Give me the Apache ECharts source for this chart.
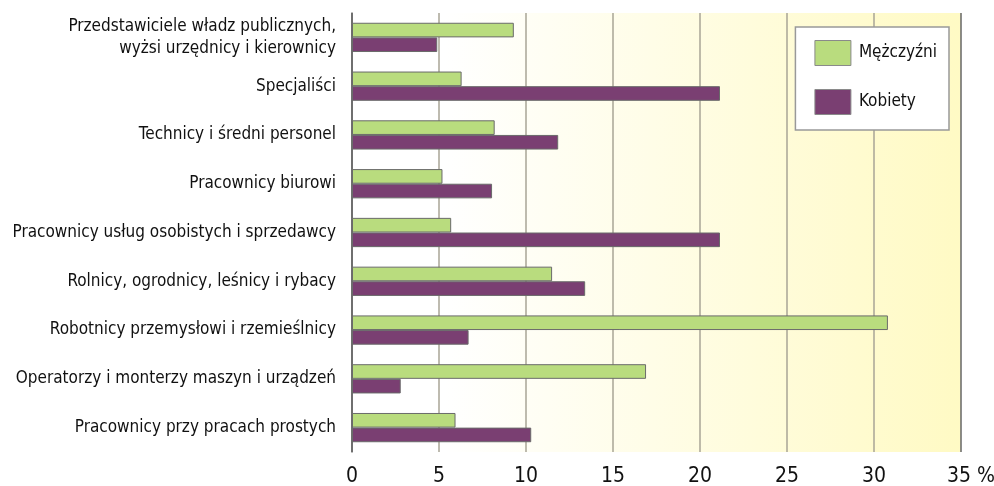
<!DOCTYPE html>
<html>
<head>
<meta charset="utf-8">
<script src="https://cdn.jsdelivr.net/npm/echarts@6/dist/echarts.min.js"></script>
<style>
  html, body { margin: 0; padding: 0; background: #fff; }
  #main { width: 994px; height: 486px; }
</style>
</head>
<body>
<div id="main"></div>
<script>
const categories = [
  "Przedstawiciele władz publicznych,\nwyżsi urzędnicy i kierownicy",
  "Specjaliści",
  "Technicy i średni personel",
  "Pracownicy biurowi",
  "Pracownicy usług osobistych i sprzedawcy",
  "Rolnicy, ogrodnicy, leśnicy i rybacy",
  "Robotnicy przemysłowi i rzemieślnicy",
  "Operatorzy i monterzy maszyn i urządzeń",
  "Pracownicy przy pracach prostych"
];
const men = [9.3, 6.3, 8.2, 5.2, 5.7, 11.5, 30.8, 16.9, 5.95];
const women = [4.9, 21.15, 11.85, 8.05, 21.15, 13.4, 6.7, 2.8, 10.3];
const seriesNames = ["Mężczyźni", "Kobiety"];

const FONT = "'DejaVu Sans Condensed', 'Liberation Sans Narrow', sans-serif";

const chart = echarts.init(document.getElementById("main"), null, { renderer: "canvas" });

const option = {
  animation: false,
  textStyle: { fontFamily: FONT, color: "#111" },
  legend: {
    orient: "vertical",
    right: 45,
    top: 27,
    padding: [13, 12, 15, 19],
    icon: "rect",
    itemWidth: 36,
    itemHeight: 25,
    itemGap: 23,
    backgroundColor: "#fff",
    borderColor: "#999",
    borderWidth: 1.5,
    borderRadius: 0,
    itemStyle: { borderColor: "#8a8a8a", borderWidth: 1 },
    textStyle: { fontSize: 17, fontFamily: FONT, color: "#111", padding: [0, 0, 0, 3] },
    data: seriesNames
  },
  grid: {
    left: 352,
    right: 33,
    top: 13,
    bottom: 34,
    outerBoundsMode: "none",
    containLabel: false,
    show: true,
    borderWidth: 0,
    backgroundColor: new echarts.graphic.LinearGradient(0, 0, 1, 0, [
      { offset: 0, color: "#ffffff" },
      { offset: 0.15, color: "#ffffff" },
      { offset: 1, color: "#fffac4" }
    ])
  },
  xAxis: {
    type: "value",
    min: 0,
    max: 35,
    interval: 5,
    axisLine: { show: false },
    axisTick: { show: false },
    axisLabel: {
      fontSize: 21,
      fontFamily: FONT,
      color: "#111",
      margin: 14,
      formatter: (v) => (v === 35 ? "{h|}35 %" : String(v)),
      rich: { h: { width: 20 } }
    },
    splitLine: {
      show: true,
      lineStyle: {
        width: 1.5,
        color: ["#666", "#a8a496", "#a8a496", "#a8a496", "#a8a496", "#a8a496", "#a8a496", "#666"]
      }
    }
  },
  yAxis: {
    type: "category",
    inverse: true,
    data: categories,
    axisLine: { show: true, lineStyle: { color: "#666", width: 1.5 } },
    axisTick: { show: false },
    axisLabel: {
      fontSize: 17,
      fontFamily: FONT,
      color: "#111",
      margin: 16,
      lineHeight: 22
    }
  },
  series: [
    {
      name: seriesNames[0],
      type: "bar",
      data: men,
      barGap: 0,
      barCategoryGap: "40%",
      itemStyle: { color: "#b9dc7e", borderColor: "#6a6a6a", borderWidth: 1 }
    },
    {
      name: seriesNames[1],
      type: "bar",
      data: women,
      itemStyle: { color: "#7a3f72", borderColor: "#6a6a6a", borderWidth: 1 }
    }
  ]
};

chart.setOption(option);
</script>
</body>
</html>
